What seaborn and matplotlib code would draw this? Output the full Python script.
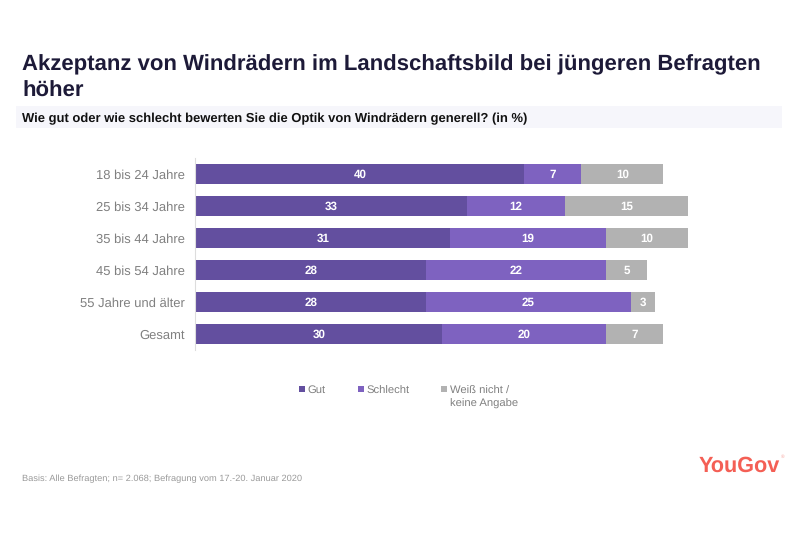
import matplotlib
matplotlib.use("Agg")
import matplotlib.pyplot as plt
from matplotlib.patches import Rectangle
import pandas as pd
import seaborn as sns

categories = ["18 bis 24 Jahre", "25 bis 34 Jahre", "35 bis 44 Jahre",
              "45 bis 54 Jahre", "55 Jahre und älter", "Gesamt"]
gut = [40, 33, 31, 28, 28, 30]
schlecht = [7, 12, 19, 22, 25, 20]
weiss = [10, 15, 10, 5, 3, 7]
series_names = ["Gut", "Schlecht", "Weiß nicht /\nkeine Angabe"]
colors = ["#634F9F", "#7E62C0", "#B2B2B2"]

title_lines = ["Akzeptanz von Windrädern im Landschaftsbild bei jüngeren Befragten", "höher"]
subtitle = "Wie gut oder wie schlecht bewerten Sie die Optik von Windrädern generell? (in %)"
footer = "Basis: Alle Befragten; n= 2.068; Befragung vom 17.-20. Januar 2020"

sns.set_theme(style="white")
plt.rcParams["font.family"] = ["Liberation Sans", "DejaVu Sans"]
plt.rcParams["text.hinting"] = "no_hinting"

W, H = 800, 533
fig = plt.figure(figsize=(W / 100, H / 100), dpi=100, facecolor="white")
ax = fig.add_axes([196 / W, 1 - 350 / H, 600 / W, 192 / H])

df = pd.DataFrame({"cat": categories, "gut": gut, "schlecht": schlecht, "weiss": weiss})
left = [0] * len(df)
for col, c, name in zip(["gut", "schlecht", "weiss"], colors, series_names):
    sns.barplot(data=df, y="cat", x=col, left=left, color=c, width=0.625, ax=ax,
                saturation=1, order=categories, label=name, legend=False, linewidth=0)
    for i, v in enumerate(df[col]):
        ax.text(left[i] + v / 2, i, str(v), ha="center", va="center_baseline",
                color="white", fontsize=8.4, fontweight="bold")
    left = [a + b for a, b in zip(left, df[col])]

ax.set_xlim(0, 600 / 8.2)
ax.set_ylim(5.5, -0.5)
ax.set_xlabel("")
ax.set_ylabel("")
ax.set_xticks([])
ax.tick_params(axis="y", length=0, pad=7.5, labelsize=9.4, labelcolor="#808080")
for s in ["top", "right", "bottom"]:
    ax.spines[s].set_visible(False)
ax.spines["left"].set_color("#DDDDDD")
ax.spines["left"].set_linewidth(0.8)
ax.spines["left"].set_position(("outward", 0.6))

def px(x, y):
    return x / W, 1 - y / H

fig.patches.append(Rectangle((16 / W, 1 - 128 / H), 766 / W, 22 / H, transform=fig.transFigure,
                             facecolor="#F6F6FB", edgecolor="none", zorder=0))
for line, y in zip(title_lines, [70, 97]):
    fig.text(*px(22, y), line, fontsize=15.93, fontweight="bold", color="#1D1A38", va="baseline")
fig.text(*px(22, 122), subtitle, fontsize=9.35, fontweight="bold", color="#111111", va="baseline")

for x, c, name, y0 in zip([299, 358, 441], colors, series_names, [393, 393.7, 393.7]):
    fig.patches.append(Rectangle((x / W, 1 - 392 / H), 6 / W, 6 / H, transform=fig.transFigure,
                                 facecolor=c, edgecolor="none"))
    lines = name.split("\n")
    for j, line in enumerate(lines):
        fig.text(*px(x + 8.5, y0 + 13 * j), line, fontsize=8.1, color="#808080", va="baseline")

fig.text(*px(22, 481), footer, fontsize=6.66, color="#9A9A9A", va="baseline")
fig.text(*px(699, 471.5), "YouGov", fontsize=15.6, fontweight="bold", color="#F45F55", va="baseline")
fig.text(*px(780.5, 458), "®", fontsize=3.5, color="#F7A39D", va="baseline")

fig.savefig("out.png", dpi=100, facecolor="white")
